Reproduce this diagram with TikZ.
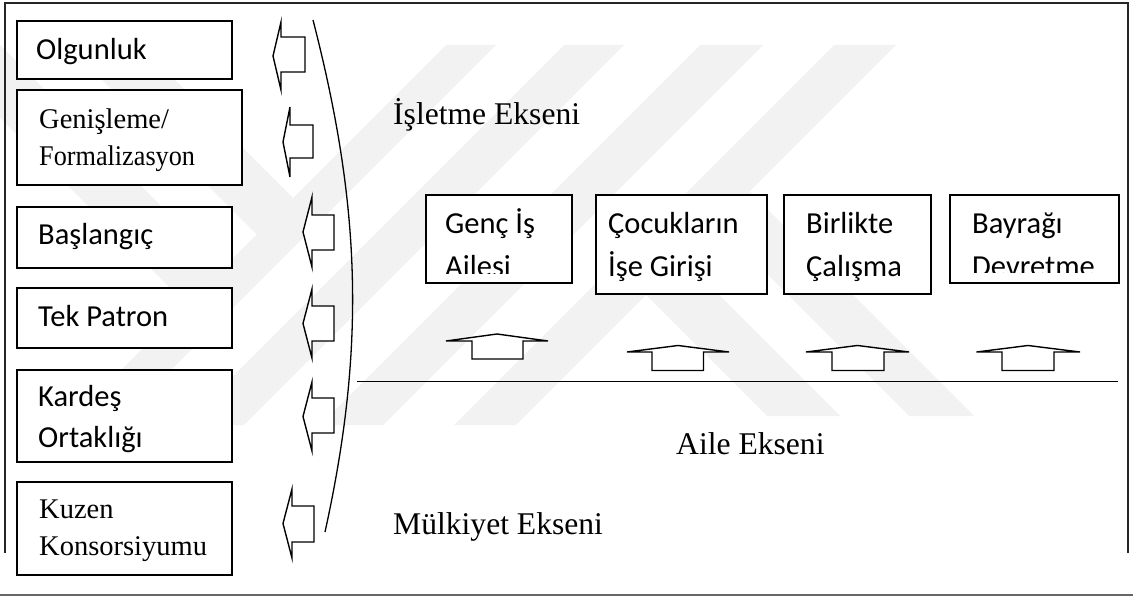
\documentclass[tikz,border=0pt]{standalone}
\usepackage{fontspec}
\setmainfont{Liberation Serif}
\newfontfamily\calibrifont{Carlito}

% left-pointing block arrow: tip x, head base x, body right x, head top y, head bottom y, body top y, body bottom y
\newcommand\blockleft[7]{%
  \draw[arrowshape] (#1,{(#4+#5)/2}) -- (#2,#4) -- (#2,#6) -- (#3,#6) -- (#3,#7) -- (#2,#7) -- (#2,#5) -- cycle;}
% upward block arrow: apex x, apex y, head base y, head left x, head right x, body left x, body right x, body bottom y
\newcommand\blockup[8]{%
  \draw[arrowshape] (#1,#2) -- (#4,#3) -- (#6,#3) -- (#6,#8) -- (#7,#8) -- (#7,#3) -- (#5,#3) -- cycle;}

\tikzset{
  stagebox/.style={draw=black, line width=1.5pt, fill=white, inner sep=0pt, outer sep=0pt, anchor=north west},
  sanslbl/.style={font=\calibrifont\fontsize{30.5}{36}\selectfont, inner sep=0pt, anchor=base west},
  seriflbl/.style={font=\fontsize{28.5}{34}\selectfont, inner sep=0pt, anchor=base west},
  axislbl/.style={font=\fontsize{31.6}{38}\selectfont, inner sep=0pt, anchor=base west},
  arrowshape/.style={draw=black, line width=1.4pt, fill=white, line join=miter},
  wm/.style={fill=black!5},
}

\begin{document}
\begin{tikzpicture}[x=1pt,y=-1pt]
\useasboundingbox (0,0) rectangle (1133,596);

% faint background mark
\begin{scope}
  \clip (0,0) rectangle (1133,596);
  \fill[wm] (446,45) -- (496,45) -- (116,425) -- (66,425) -- cycle;
  \fill[wm] (564,45) -- (624,45) -- (244,425) -- (184,425) -- cycle;
  \fill[wm] (700,45) -- (763,45) -- (383,425) -- (320,425) -- cycle;
  \fill[wm] (834,45) -- (896,45) -- (516,425) -- (454,425) -- cycle;
  \fill[wm] (646,295) -- (682.5,258.5) -- (840,416) -- (767,416) -- cycle;
  \fill[wm] (717,224) -- (749.5,191.5) -- (974,416) -- (909,416) -- cycle;
  \fill[wm] (67,45) -- (140,45) -- (293,198) -- (256.5,234.5) -- cycle;
  \fill[wm] (-73,45) -- (0,45) -- (223,268) -- (186.5,304.5) -- cycle;
\end{scope}

% outer frame, open at the bottom
\coordinate (fbl) at (5,553);
\coordinate (ftl) at (5,3);
\coordinate (ftr) at (1127.5,3);
\coordinate (fbr) at (1127.5,553);
\draw[line width=2pt, draw=black!85] (fbl) -- (ftl) -- (ftr) -- (fbr);

% rule under the figure
\coordinate (rl) at (0,594.5);
\coordinate (rr) at (1133,594.5);
\draw[line width=2pt, draw=black!60] (rl) -- (rr);

% ownership / business boundary
\coordinate (ca) at (313,20);
\coordinate (cb) at (325,532);
\draw[line width=1.3pt] (ca) .. controls (362,210) and (365,350) .. (cb);

% family axis line
\coordinate (al) at (357,381.5);
\coordinate (ar) at (1118,381.5);
\draw[line width=1.5pt] (al) -- (ar);

% business stages (left column)
\node[stagebox, minimum width=215pt, minimum height=58pt] (olg) at (17,21) {};
\node[stagebox, minimum width=225pt, minimum height=95pt] (gen) at (17,90) {};
\node[stagebox, minimum width=215pt, minimum height=61pt] (bas) at (17,207) {};
\node[stagebox, minimum width=215pt, minimum height=60pt] (tek) at (17,288) {};
\node[stagebox, minimum width=215pt, minimum height=92pt] (kar) at (17,370) {};
\node[stagebox, minimum width=215pt, minimum height=93pt] (kuz) at (17,482) {};

\node[sanslbl] (olgT) at (36,59.5) {Olgunluk};
\node[seriflbl] (genT1) at (39,128.3) {Genişleme/};
\node[seriflbl] (genT2) at (39,165.7) {\scalebox{0.92}[1]{Formalizasyon}};
\node[sanslbl] (basT) at (38,245) {Başlangıç};
\node[sanslbl] (tekT) at (38,326.7) {Tek Patron};
\node[sanslbl] (karT1) at (38,406.7) {Kardeş};
\begin{scope}
  \clip (17,370) rectangle (232,452);
  \node[sanslbl] (karT2) at (38,447.7) {Ortaklığı};
\end{scope}
\node[seriflbl] (kuzT1) at (39,518.3) {Kuzen};
\node[seriflbl] (kuzT2) at (39,555) {Konsorsiyumu};

% family stages (top row)
\node[stagebox, minimum width=146pt, minimum height=88pt] (genc) at (426,195) {};
\node[stagebox, minimum width=171pt, minimum height=99pt] (coc) at (596,195) {};
\node[stagebox, minimum width=147pt, minimum height=99pt] (bir) at (784,195) {};
\node[stagebox, minimum width=169pt, minimum height=88pt] (bay) at (950,195) {};

\node[sanslbl] (gencT1) at (445,234) {Genç İş};
\begin{scope}
  \clip (426,195) rectangle (572,273.5);
  \node[sanslbl] (gencT2) at (445,276.5) {Ailesi};
\end{scope}
\node[sanslbl] (cocT1) at (608,234) {Çocukların};
\node[sanslbl] (cocT2) at (608,276.7) {İşe Girişi};
\node[sanslbl] (birT1) at (806,234) {Birlikte};
\node[sanslbl] (birT2) at (806,276.7) {Çalışma};
\node[sanslbl] (bayT1) at (972,234) {Bayrağı};
\begin{scope}
  \clip (950,195) rectangle (1119,273);
  \node[sanslbl] (bayT2) at (972,276.5) {Devretme};
\end{scope}

% axis labels
\node[axislbl] (isletme) at (393,125) {İşletme Ekseni};
\node[axislbl] (aile) at (676,454) {Aile Ekseni};
\node[axislbl] (mulk) at (393,534) {Mülkiyet Ekseni};

% arrows towards the business stages
\blockleft{273}{281}{305}{22}{90}{37}{72}
\blockleft{283}{290}{313}{107}{177}{125}{158}
\blockleft{303}{312}{334}{197}{267}{215}{250}
\blockleft{303}{312}{334}{289}{358}{306}{341}
\blockleft{303}{312}{334}{382}{451}{398}{433}
\blockleft{283}{292}{314}{489}{558}{506}{542}

% arrows towards the family stages
\blockup{497}{334}{341}{446}{548}{472}{523}{359}
\blockup{678}{345.5}{352}{627}{729}{652}{703.5}{370.5}
\blockup{857.5}{345.5}{352}{806}{909}{832}{884}{370.5}
\blockup{1028}{345.5}{352}{976.5}{1080}{1002}{1054}{370.5}
\end{tikzpicture}
\end{document}
